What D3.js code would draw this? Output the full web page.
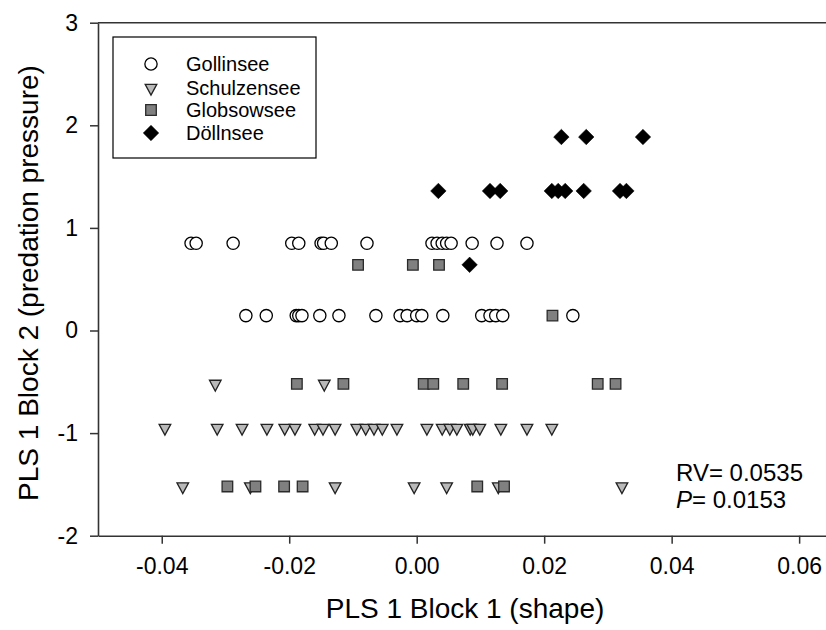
<!DOCTYPE html>
<html><head><meta charset="utf-8">
<script src="https://cdn.jsdelivr.net/npm/d3@7"></script>
<style>body{margin:0;background:#fff}svg{display:block}text{font-family:"Liberation Sans",Arial,sans-serif;fill:#000}</style>
</head><body><svg id="c" width="826" height="630"></svg>
<script>
const xTicks=[-0.04,-0.02,0.00,0.02,0.04,0.06];
const yTicks=[-2,-1,0,1,2,3];
const seriesNames=["Gollinsee","Schulzensee","Globsowsee","Döllnsee"];
// [x, y]
const gollinsee=[
 [-0.0354,0.85],[-0.0346,0.85],[-0.0288,0.85],[-0.0196,0.85],[-0.0185,0.85],[-0.0150,0.85],[-0.0146,0.85],[-0.0134,0.85],[-0.0078,0.85],
 [0.0024,0.85],[0.0032,0.85],[0.0040,0.85],[0.0047,0.85],[0.0054,0.85],[0.0087,0.85],[0.0126,0.85],[0.0173,0.85],
 [-0.0268,0.145],[-0.0236,0.145],[-0.0189,0.145],[-0.0185,0.145],[-0.0180,0.145],[-0.0152,0.145],[-0.0122,0.145],[-0.0064,0.145],
 [-0.0026,0.145],[-0.0015,0.145],[0.0000,0.145],[0.0008,0.145],[0.0041,0.145],[0.0102,0.145],[0.0115,0.145],[0.0124,0.145],[0.0135,0.145],[0.0245,0.145]];
const schulzensee=[
 [-0.0316,-0.52],[-0.0145,-0.52],
 [-0.0395,-0.95],[-0.0313,-0.95],[-0.0274,-0.95],[-0.0235,-0.95],[-0.0207,-0.95],[-0.0191,-0.95],[-0.0160,-0.95],[-0.0147,-0.95],
 [-0.0128,-0.95],[-0.0094,-0.95],[-0.0080,-0.95],[-0.0067,-0.95],[-0.0054,-0.95],[-0.0031,-0.95],[0.0016,-0.95],[0.0040,-0.95],
 [0.0052,-0.95],[0.0063,-0.95],[0.0084,-0.95],[0.0088,-0.95],[0.0099,-0.95],[0.0132,-0.95],[0.0173,-0.95],[0.0212,-0.95],
 [-0.0367,-1.52],[-0.0261,-1.52],[-0.0128,-1.52],[-0.0004,-1.52],[0.0047,-1.52],[0.0128,-1.52],[0.0322,-1.52]];
const globsowsee=[
 [-0.0092,0.64],[-0.0006,0.64],[0.0035,0.64],
 [0.0213,0.145],
 [-0.0188,-0.52],[-0.0115,-0.52],[0.0011,-0.52],[0.0026,-0.52],[0.0073,-0.52],[0.0134,-0.52],[0.0284,-0.52],[0.0312,-0.52],
 [-0.0297,-1.52],[-0.0253,-1.52],[-0.0208,-1.52],[-0.0179,-1.52],[0.0095,-1.52],[0.0137,-1.52]];
const doellnsee=[
 [0.0227,1.886],[0.0266,1.886],[0.0355,1.886],
 [0.0034,1.36],[0.0115,1.36],[0.0131,1.36],[0.0212,1.36],[0.0222,1.36],[0.0233,1.36],[0.0262,1.36],[0.0319,1.36],[0.0329,1.36],
 [0.0083,0.64]];
const xLabel="PLS 1 Block 1 (shape)";
const yLabel="PLS 1 Block 2 (predation pressure)";

const svg=d3.select("#c");
const x=d3.scaleLinear().domain([-0.05,0.065]).range([98,831]);
const y=d3.scaleLinear().domain([-2,3]).range([535.7,22.7]);

// downward triangle, slightly taller than equilateral
const triDown={draw(ctx,size){const w=Math.sqrt(size)*1.5/2,h=w*1.85;ctx.moveTo(-w,-h/3);ctx.lineTo(w,-h/3);ctx.lineTo(0,2*h/3);ctx.closePath();}};

const styles=[
 {data:gollinsee, type:d3.symbolCircle, size:118, fill:"#fff", stroke:"#000", rot:0, sw:1.3},
 {data:schulzensee, type:triDown, size:60, fill:"#b9b9b9", stroke:"#222", rot:0, sw:1.3},
 {data:globsowsee, type:d3.symbolSquare, size:112, fill:"#808080", stroke:"#2a2a2a", rot:0, sw:1.3},
 {data:doellnsee, type:d3.symbolSquare, size:120, fill:"#000", stroke:"#000", rot:45, sw:0.5}
];

// axes
const ax=svg.append("g").attr("transform","translate(0,535.7)")
 .call(d3.axisBottom(x).tickValues(xTicks).tickFormat(d3.format(".2f")).tickSize(8).tickPadding(14).tickSizeOuter(0));
const ay=svg.append("g").attr("transform","translate(98,0)")
 .call(d3.axisLeft(y).tickValues(yTicks).tickFormat(d3.format("d")).tickSize(8).tickPadding(12).tickSizeOuter(0));
[ax,ay].forEach(g=>{
 g.selectAll("path.domain").attr("stroke","#333").attr("stroke-width",1.6);
 g.selectAll("line").attr("stroke","#333").attr("stroke-width",1.5);
 g.selectAll("text").attr("font-size",23).attr("font-family","Liberation Sans, Arial, sans-serif").attr("fill","#000");
});
ax.selectAll("text").text(d=>d3.format(".2f")(d).replace("−","-"));
ay.selectAll("text").text(d=>String(d));
svg.append("line").attr("x1",98).attr("x2",831).attr("y1",y(3)).attr("y2",y(3)).attr("stroke","#333").attr("stroke-width",1.6);

// points
styles.forEach(s=>{
 svg.append("g").selectAll("path").data(s.data).join("path")
  .attr("d",d3.symbol().type(s.type).size(s.size))
  .attr("transform",d=>`translate(${x(d[0])},${y(d[1])}) rotate(${s.rot})`)
  .attr("fill",s.fill).attr("stroke",s.stroke).attr("stroke-width",s.sw);
});

// legend
const lg=svg.append("g");
lg.append("rect").attr("x",113).attr("y",37).attr("width",203).attr("height",121).attr("fill","#fff").attr("stroke","#000").attr("stroke-width",1.2);
const ly=[64,88,110,133];
seriesNames.forEach((n,i)=>{
 const s=styles[i];
 lg.append("path").attr("d",d3.symbol().type(s.type).size(s.size))
  .attr("transform",`translate(151,${ly[i]}) rotate(${s.rot})`)
  .attr("fill",s.fill).attr("stroke",s.stroke).attr("stroke-width",s.sw);
 lg.append("text").attr("x",186).attr("y",ly[i]+7).attr("font-size",20).text(n);
});

// titles
svg.append("text").attr("x",465).attr("y",618).attr("text-anchor","middle").attr("font-size",28).text(xLabel);
svg.append("text").attr("transform","translate(38,283) rotate(-90)").attr("text-anchor","middle").attr("font-size",28).text(yLabel);

// stats
svg.append("text").attr("x",676).attr("y",481).attr("font-size",24).text("RV= 0.0535");
const p=svg.append("text").attr("x",676).attr("y",508).attr("font-size",24);
p.append("tspan").attr("font-style","italic").text("P");
p.append("tspan").text("= 0.0153");
</script></body></html>
